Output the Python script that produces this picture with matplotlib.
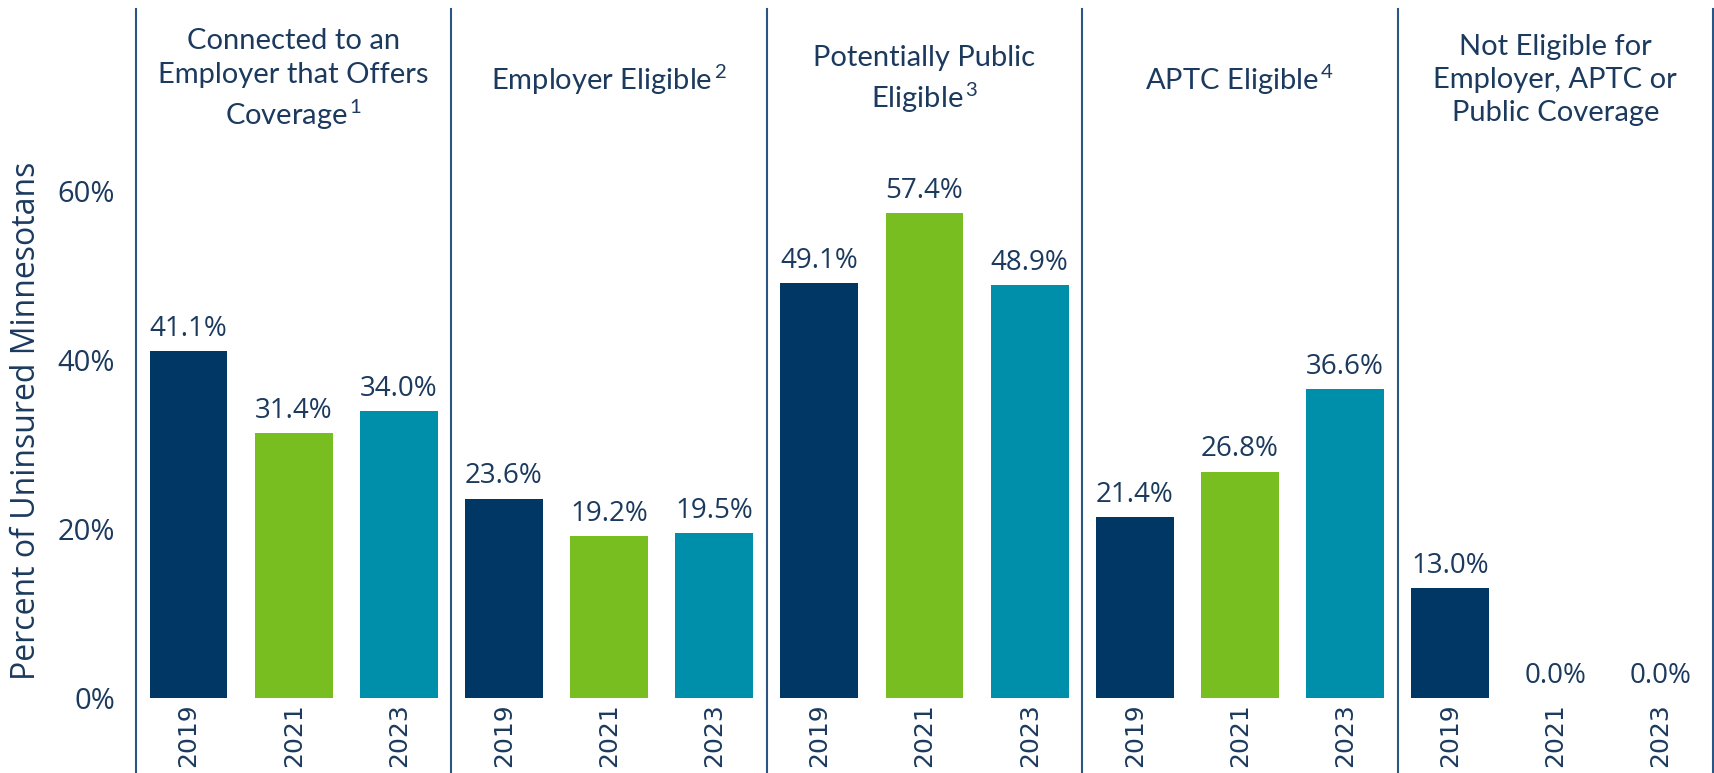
import matplotlib.pyplot as plt
from matplotlib import transforms

plt.rcParams['mathtext.fontset'] = 'custom'
plt.rcParams['mathtext.rm'] = 'Lato'
plt.rcParams['mathtext.it'] = 'Lato:italic'

groups = [
    "Connected to an\nEmployer that Offers\nCoverage$^{\\,1}$",
    "Employer Eligible$^{\\,2}$",
    "Potentially Public\nEligible$^{\\,3}$",
    "APTC Eligible$^{\\,4}$",
    "Not Eligible for\nEmployer, APTC or\nPublic Coverage",
]
years = ["2019", "2021", "2023"]
v2019 = [41.1, 23.6, 49.1, 21.4, 13.0]
v2021 = [31.4, 19.2, 57.4, 26.8, 0.0]
v2023 = [34.0, 19.5, 48.9, 36.6, 0.0]

colors = ["#003764", "#78BE21", "#008FAA"]
text_col = "#1B3A5E"
line_col = "#2B5585"

fig = plt.figure(figsize=(17.15, 7.73), dpi=100)
ax = fig.add_axes([136 / 1715, 75 / 773, 1577 / 1715, 689 / 773])

xs, vals, cols, labels = [], [], [], []
for g in range(len(groups)):
    for j, series in enumerate([v2019, v2021, v2023]):
        xs.append(g * 3 + j)
        vals.append(series[g])
        cols.append(colors[j])
        labels.append(years[j])

bars = ax.bar(xs, vals, width=0.74, color=cols)
for b, v in zip(bars, vals):
    ax.annotate(f"{v:.1f}%", (b.get_x() + b.get_width() / 2, v),
                xytext=(0, 6), textcoords="offset points",
                ha="center", va="bottom", fontsize=20,
                family="Open Sans", color=text_col)

ax.set_xlim(-0.5, len(xs) - 0.5)
ax.set_ylim(0, 81.6)
ax.set_xticks(xs)
ax.set_xticklabels(labels, rotation=90, fontsize=18, family="DejaVu Sans",
                   color=text_col)
ax.set_yticks([0, 20, 40, 60])
ax.set_yticklabels(["0%", "20%", "40%", "60%"], fontsize=21,
                   family="Open Sans", color=text_col)
ax.tick_params(axis="both", length=0)
ax.tick_params(axis="x", pad=4)
ax.tick_params(axis="y", pad=15)
for s in ax.spines.values():
    s.set_visible(False)

for k in range(len(groups) + 1):
    ax.axvline(k * 3 - 0.5, ymin=-0.12, ymax=1, clip_on=False,
               color=line_col, lw=1.5)

trans = transforms.blended_transform_factory(ax.transData, ax.transAxes)
for g, title in enumerate(groups):
    ax.text(g * 3 + 1, 0.897, title, transform=trans, ha="center",
            va="center", multialignment="center", fontsize=21,
            family="Lato", color=text_col, linespacing=1.35)

fig.text(27 / 1715, 1 - 421 / 773, "Percent of Uninsured Minnesotans",
         rotation=90, ha="center", va="center", fontsize=23,
         family="Open Sans", color=text_col)

fig.savefig("out.png", dpi=100)
